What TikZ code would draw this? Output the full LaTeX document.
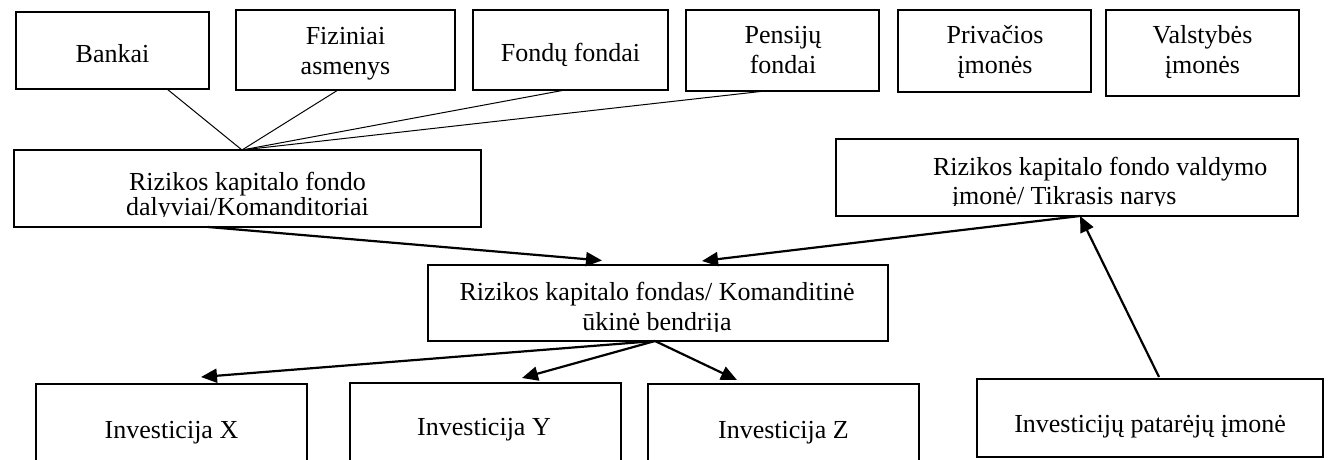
\documentclass[tikz,border=0pt]{standalone}
\usepackage{fontspec}
\setmainfont{Liberation Serif}
\usetikzlibrary{arrows.meta}
\newcommand\twoln[3]{\vtop{\baselineskip=#1\lineskiplimit=-\maxdimen\lineskip=0pt\halign{\hfil##\hfil\cr#2\cr#3\cr}}}
\tikzset{
  box/.style={draw, line width=2.4pt, inner sep=0pt, outer sep=0pt},
  txt/.style={inner sep=0pt, outer sep=0pt, anchor=base, font=\fontsize{26}{30}\selectfont},
  thin/.style={line width=1pt},
  arr/.style={line width=2.2pt, -{Triangle[length=16pt,width=14pt]}}
}
\begin{document}
\begin{tikzpicture}[x=1pt,y=-1pt]
\useasboundingbox (0,0) rectangle (1332,460);
\clip (0,0) rectangle (1332,460);
\fill[white] (0,0) rectangle (1332,460);
% top row
\node[box, minimum width=193pt, minimum height=77pt] (bankai) at (112.5,50.5) {};
\node[box, minimum width=219pt, minimum height=80pt] (fiz) at (345.5,50) {};
\node[box, minimum width=195pt, minimum height=80pt] (fondu) at (570.5,50) {};
\node[box, minimum width=193pt, minimum height=81pt] (pens) at (782.5,50.5) {};
\node[box, minimum width=193pt, minimum height=82pt] (priv) at (994.5,51) {};
\node[box, minimum width=193pt, minimum height=86pt] (valst) at (1202.5,53) {};
\node[txt] (tbankai) at (112.5,63) {Bankai};
\node[txt] (tfiz) at (345.5,45) {\twoln{29.5pt}{Fiziniai}{asmenys}};
\node[txt] (tfondu) at (570.5,62) {Fondų fondai};
\node[txt] (tpens) at (783,44) {\twoln{30pt}{Pensijų}{fondai}};
\node[txt] (tpriv) at (995,44) {\twoln{30pt}{Privačios}{įmonės}};
\node[txt] (tvalst) at (1202.5,44) {\twoln{30pt}{Valstybės}{įmonės}};
% middle boxes
\node[box, minimum width=467pt, minimum height=77pt] (dalv) at (247.5,188.5) {};
\node[box, minimum width=462pt, minimum height=77pt] (vald) at (1067,177.5) {};
\node[box, minimum width=460pt, minimum height=76pt] (rkf) at (658,303) {};
\begin{scope}
\clip (16,152) rectangle (479,216.5);
\node[txt] (tdalv) at (247.5,190.5) {\twoln{24.5pt}{Rizikos kapitalo fondo}{dalyviai/Komanditoriai}};
\end{scope}
\begin{scope}
\clip (838,141) rectangle (1296,205);
\node[txt, anchor=base west] (tvald1) at (933,175) {Rizikos kapitalo fondo valdymo};
\node[txt, anchor=base west] (tvald2) at (952,204) {įmonė/ Tikrasis narys};
\end{scope}
\begin{scope}
\clip (430,267) rectangle (886,331.5);
\node[txt] (trkf) at (657,300) {\twoln{30pt}{Rizikos kapitalo fondas/ Komanditinė}{ūkinė bendrija}};
\end{scope}
% bottom boxes
\node[box, minimum width=271pt, minimum height=96pt] (invx) at (171.5,432) {};
\node[box, minimum width=271pt, minimum height=97pt] (invy) at (485.5,431.5) {};
\node[box, minimum width=271pt, minimum height=96pt] (invz) at (783.5,432) {};
\node[box, minimum width=346pt, minimum height=78pt] (pat) at (1150,418) {};
\node[txt] (tinvx) at (171.5,438) {Investicija X};
\node[txt] (tinvy) at (484,435) {Investicija Y};
\node[txt] (tinvz) at (783.5,438) {Investicija Z};
\node[txt] (tpat) at (1150,432) {Investicijų patarėjų įmonė};
% thin connectors
\coordinate (join) at ([xshift=-5.5pt]dalv.north);
\draw[thin] ([xshift=54.5pt]bankai.south) -- (join);
\draw[thin] ([xshift=-7.5pt]fiz.south) -- (join);
\draw[thin] ([xshift=-5.5pt]fondu.south) -- (join);
\draw[thin] ([xshift=-17.5pt]pens.south) -- (join);
% arrows
\draw[arr] ([xshift=-39.5pt]dalv.south) -- ([xshift=-56pt,yshift=4.5pt]rkf.north);
\draw[arr] ([xshift=13pt]vald.south) -- ([xshift=44pt,yshift=4pt]rkf.north);
\draw[arr] ([xshift=9pt,yshift=2pt]pat.north) -- ([xshift=13pt]vald.south);
\draw[arr] ([xshift=-3pt]rkf.south) -- ([xshift=29.5pt,yshift=7pt]invx.north);
\draw[arr] ([xshift=-3pt]rkf.south) -- ([xshift=36.5pt,yshift=5pt]invy.north);
\draw[arr] ([xshift=-3pt]rkf.south) -- ([xshift=-46.5pt,yshift=4pt]invz.north);
\end{tikzpicture}
\end{document}
